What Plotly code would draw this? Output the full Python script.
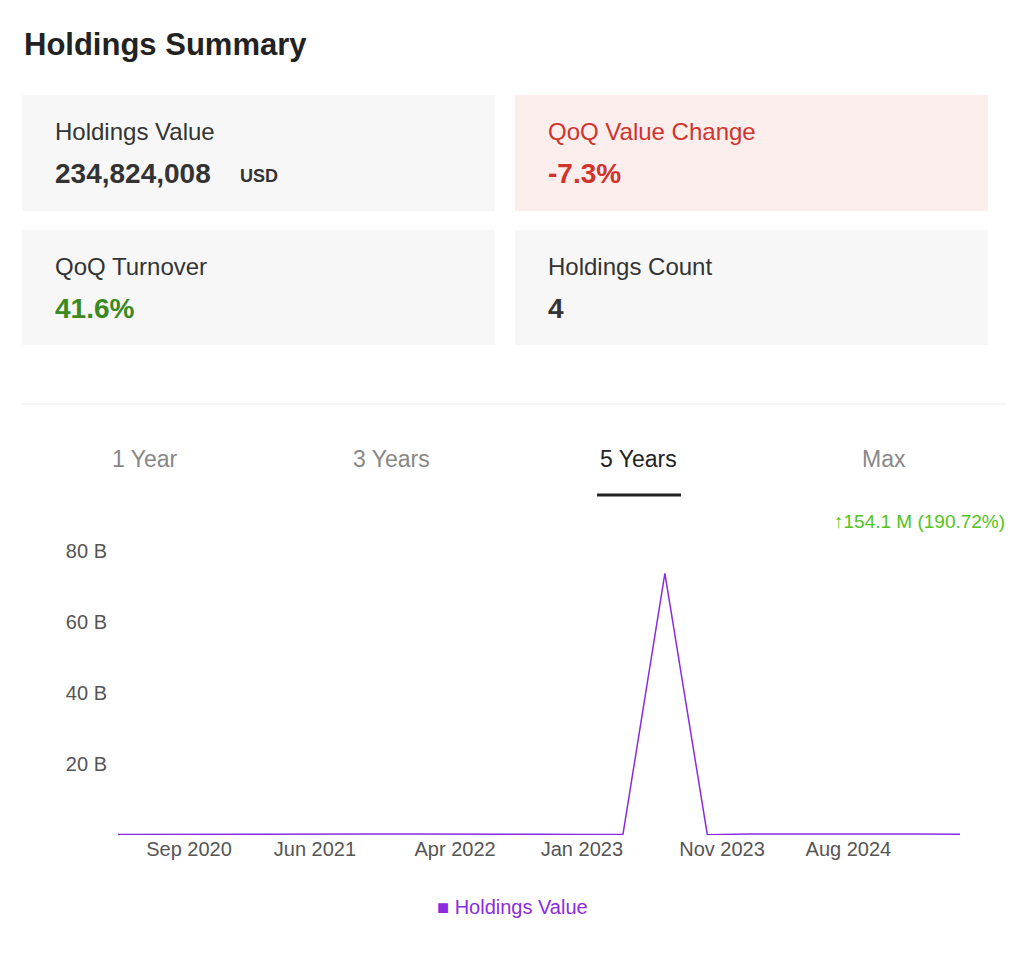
import plotly.graph_objects as go

dates = ["2020-03-31","2020-06-30","2020-09-30","2020-12-31","2021-03-31","2021-06-30","2021-09-30",
         "2021-12-31","2022-03-31","2022-06-30","2022-09-30","2022-12-31","2023-03-31","2023-06-30",
         "2023-09-30","2023-12-31","2024-03-31","2024-06-30","2024-09-30","2024-12-31","2025-03-31"]
values_b = [0.15,0.18,0.2,0.25,0.35,0.45,0.3,0.25,0.3,0.35,0.2,0.15,0.12,73.6,
            0.1,0.3,0.35,0.3,0.28,0.25,0.23]
tick_vals = ["2020-09-01","2021-06-01","2022-04-01","2023-01-01","2023-11-01","2024-08-01"]
tick_text = ["Sep 2020","Jun 2021","Apr 2022","Jan 2023","Nov 2023","Aug 2024"]
y_ticks = [20,40,60,80]
y_text = ["20 B","40 B","60 B","80 B"]

W, H = 1008, 944
def px(x): return (x - 8) / W
def py(y): return 1 - (y - 8) / H

fig = go.Figure(go.Scatter(x=dates, y=values_b, mode="lines", name="Holdings Value", showlegend=False,
                           line=dict(color="#8a2be2", width=1.5),
                           hovertemplate="%{x}<br>%{y} B<extra></extra>"))

FONT = "Liberation Sans, Arial, sans-serif"
shapes, ann = [], []
def A(x, y, text, size, color, xa="left"):
    ann.append(dict(xref="paper", yref="paper", x=px(x), y=py(y), text=text, xanchor=xa, yanchor="middle",
                    showarrow=False, font=dict(size=size, color=color, family=FONT)))

cards = [(22,95,495,211,"#f7f7f7","Holdings Value","234,824,008","#333"),
         (515,95,988,211,"#fdeeee","QoQ Value Change","-7.3%","#d0342c"),
         (22,230,495,345,"#f7f7f7","QoQ Turnover","41.6%","#3a8a1f"),
         (515,230,988,345,"#f7f7f7","Holdings Count","4","#333")]
for x0,y0,x1,y1,bg,lab,val,col in cards:
    shapes.append(dict(type="rect", xref="paper", yref="paper", x0=px(x0), x1=px(x1), y0=py(y1), y1=py(y0),
                       fillcolor=bg, line=dict(width=0), layer="below"))
    lc = "#d0342c" if lab == "QoQ Value Change" else "#333"
    A(x0+31, y0+36, lab, 24, lc)
    A(x0+31, y0+78, "<b>"+val+"</b>", 28, col)
A(238, 176, "<b>USD</b>", 18, "#333")
A(22, 45, "<b>Holdings Summary</b>", 31, "#222")
shapes.append(dict(type="line", xref="paper", yref="paper", x0=px(22), x1=px(1007), y0=py(404), y1=py(404),
                   line=dict(color="#eeeeee", width=1)))
for xc, t, c in [(145,"1 Year","#888"),(391,"3 Years","#888"),(638,"5 Years","#222"),(884,"Max","#888")]:
    A(xc, 459, t, 23, c, "center")
shapes.append(dict(type="line", xref="paper", yref="paper", x0=px(597), x1=px(681), y0=py(495), y1=py(495),
                   line=dict(color="#222", width=3)))
A(1007, 521, "↑154.1 M (190.72%)", 19, "#52c41a", "right")
A(512, 907, "■ Holdings Value", 20, "#8a2be2", "center")

fig.update_layout(
    width=W, height=H, margin=dict(l=0, r=0, t=0, b=0),
    paper_bgcolor="white", plot_bgcolor="white",
    font=dict(family=FONT),
    shapes=shapes, annotations=ann, showlegend=False,
    xaxis=dict(domain=[px(118), px(960)], range=["2020-03-31","2025-03-31"], tickvals=tick_vals, ticktext=tick_text,
               showgrid=False, zeroline=False, showline=False, ticks="",
               tickfont=dict(size=20, color="#555"), anchor="y"),
    yaxis=dict(domain=[py(835), py(540)], range=[0, 83], tickvals=y_ticks, ticktext=y_text,
               showgrid=False, zeroline=False, showline=False, ticks="", ticklabelstandoff=10,
               tickfont=dict(size=20, color="#555")),
)
fig.write_html("out.html")
